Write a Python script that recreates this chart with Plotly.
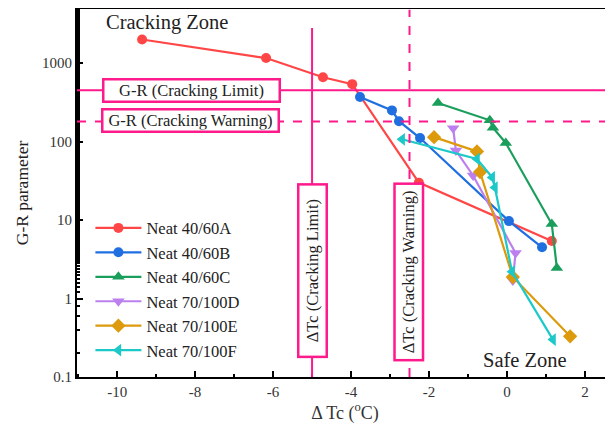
import plotly.graph_objects as go
import math

# ---- data ----
series_names = ["Neat 40/60A", "Neat 40/60B", "Neat 40/60C", "Neat 70/100D", "Neat 70/100E", "Neat 70/100F"]
a_x = [-9.36, -6.18, -4.72, -3.97, -2.26, 1.15]
a_y = [2000, 1160, 660, 540, 30, 5.4]
b_x = [-3.77, -2.95, -2.77, -2.23, 0.05, 0.90]
b_y = [370, 250, 182, 111, 9.7, 4.5]
c_x = [-1.77, -0.44, -0.36, -0.03, 1.15, 1.28]
c_y = [310, 187, 150, 96, 8.9, 2.45]
d_x = [-1.38, -1.31, -0.87, 0.22, 0.15]
d_y = [148, 77, 37, 3.8, 1.7]
e_x = [-1.87, -0.77, -0.69, 0.15, 1.62]
e_y = [114, 75, 41, 1.88, 0.33]
f_x = [-2.69, -0.77, -0.38, -0.31, 0.13, 1.18]
f_y = [107, 60, 35, 26, 2.2, 0.3]

x_ticks = [-10, -8, -6, -4, -2, 0, 2]
x_tick_labels = ["-10", "-8", "-6", "-4", "-2", "0", "2"]
y_ticks = [0.1, 1, 10, 100, 1000]
y_tick_labels = ["0.1", "1", "10", "100", "1000"]

gr_limit = 450
gr_warning = 180
dtc_limit = -5
dtc_warning = -2.5

colors = ["#ff4646", "#1f6fe0", "#1a9e5c", "#bb80ee", "#dc9a0c", "#1cc8c8"]
symbols = ["circle", "circle", "triangle-up", "triangle-down", "diamond", "triangle-left"]
pink = "#ff1a8c"
FONT = "Liberation Serif"

xs = [a_x, b_x, c_x, d_x, e_x, f_x]
ys = [a_y, b_y, c_y, d_y, e_y, f_y]

fig = go.Figure()
for name, x, y, col, sym in zip(series_names, xs, ys, colors, symbols):
    fig.add_trace(go.Scatter(
        x=x, y=y, name=name, mode="lines+markers",
        line=dict(color=col, width=2.2),
        marker=dict(color=col, symbol=sym, size=11 if sym != "circle" else 10),
    ))

# reference lines
fig.add_shape(type="line", xref="paper", yref="y", x0=0, x1=1,
              y0=gr_limit, y1=gr_limit, line=dict(color=pink, width=2))
fig.add_shape(type="line", xref="paper", yref="y", x0=0, x1=1,
              y0=gr_warning, y1=gr_warning, line=dict(color=pink, width=2, dash="dash"))
fig.add_shape(type="line", xref="x", yref="y", x0=dtc_limit, x1=dtc_limit,
              y0=0.1, y1=2800, line=dict(color=pink, width=2))
fig.add_shape(type="line", xref="x", yref="y", x0=dtc_warning, x1=dtc_warning,
              y0=0.1, y1=4800, line=dict(color=pink, width=2, dash="dash"))

box = dict(bordercolor=pink, borderwidth=2.5, bgcolor="white", showarrow=False,
           font=dict(family=FONT, size=16.5, color="#222"))
fig.add_annotation(x=-8.10, y=math.log10(gr_limit) - 0.005, xref="x", yref="y",
                   text="G-R (Cracking Limit)", width=172, height=18, borderpad=1, **box)
fig.add_annotation(x=-8.13, y=2.274, xref="x", yref="y",
                   text="G-R (Cracking Warning)", width=172, height=18, borderpad=1, **box)
fig.add_annotation(x=dtc_limit, y=0.35, xref="x", yref="y", textangle=-90,
                   text="ΔTc (Cracking Limit)", width=168, height=24, borderpad=1, **box)
fig.add_annotation(x=dtc_warning - 0.03, y=0.337, xref="x", yref="y", textangle=-90,
                   text="ΔTc (Cracking Warning)", width=172, height=24, borderpad=1, **box)

fig.add_annotation(x=-8.72, y=3.52, xref="x", yref="y", text="Cracking Zone", showarrow=False,
                   font=dict(family=FONT, size=20.5, color="#222"))
fig.add_annotation(x=0.46, y=-0.783, xref="x", yref="y", text="Safe Zone", showarrow=False,
                   font=dict(family=FONT, size=20.5, color="#222"))

fig.update_layout(
    width=605, height=431,
    margin=dict(l=69, r=0, t=1, b=62, autoexpand=False),
    paper_bgcolor="white", plot_bgcolor="white",
    font=dict(family=FONT, color="#333"),
    showlegend=True,
    legend=dict(x=0.025, y=0.452, xanchor="left", yanchor="top",
                bgcolor="rgba(0,0,0,0)", font=dict(family=FONT, size=16.5, color="#222"),
                tracegroupgap=0, itemwidth=46),
    xaxis=dict(
        range=[-11.03, 2.72], tickmode="array", tickvals=x_ticks, ticktext=x_tick_labels,
        ticks="inside", ticklen=6, tickwidth=1.5, tickcolor="black",
        minor=dict(ticks="inside", ticklen=3, tickwidth=1.5, tickcolor="black", dtick=1, tick0=-11),
        showline=True, linecolor="black", linewidth=2, mirror=True,
        showgrid=False, zeroline=False,
        tickfont=dict(family=FONT, size=15, color="#333"),
        title=dict(text="Δ Tc (<sup>o</sup>C)", font=dict(family=FONT, size=18, color="#333"), standoff=4),
    ),
    yaxis=dict(
        type="log", range=[-1, 3.69],
        tickvals=y_ticks, ticktext=y_tick_labels,
        ticks="inside", ticklen=6, tickwidth=1.5, tickcolor="black",
        minor=dict(ticks="inside", ticklen=3, tickwidth=1.5, tickcolor="black"),
        showline=True, linecolor="black", linewidth=2,
        showgrid=False, zeroline=False,
        tickfont=dict(family=FONT, size=15, color="#333"),
        title=dict(text="G-R parameter", font=dict(family=FONT, size=17.5, color="#222"), standoff=9),
    ),
)

fig.write_html("out.html")
